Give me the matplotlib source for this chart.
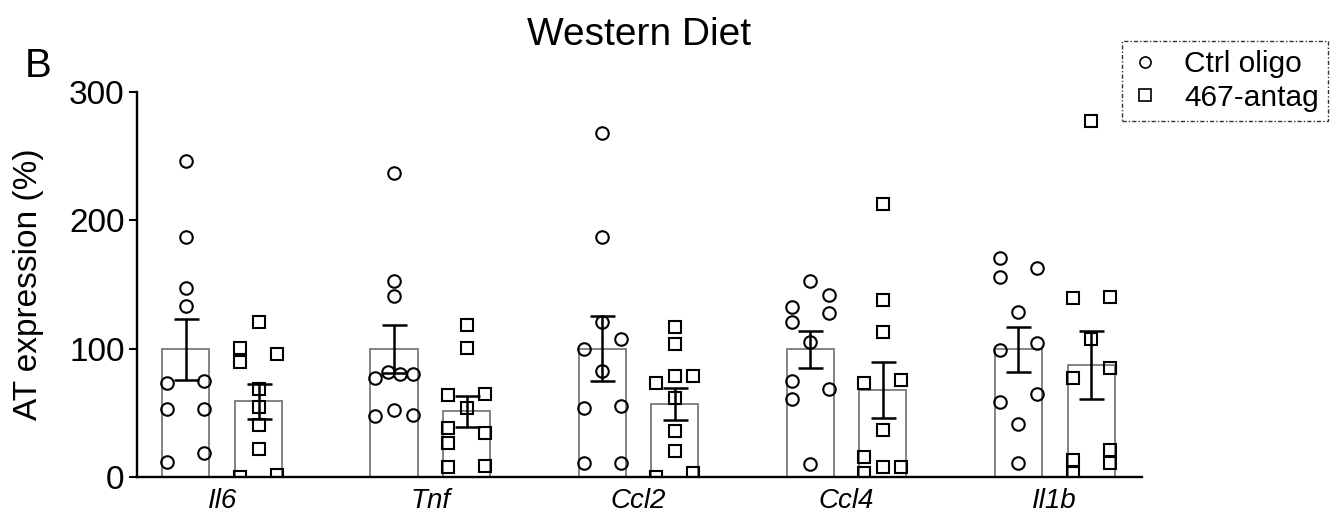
import numpy as np
import matplotlib
matplotlib.use('Agg')
import matplotlib.pyplot as plt
from matplotlib.lines import Line2D

plt.rcParams['font.family'] = ['Liberation Sans', 'DejaVu Sans']

genes = ['Il6', 'Tnf', 'Ccl2', 'Ccl4', 'Il1b']

# individual values (% of control)
ctrl_vals = [
    [246, 187, 147, 133, 73, 75, 53, 53, 12, 19],
    [236.7, 153, 140.8, 77.5, 81.7, 80, 80, 47.7, 52.6, 48.7],
    [268, 186.7, 120.8, 107.9, 99.6, 82.7, 53.7, 55.5, 11.4, 11.4],
    [152.7, 141.6, 132.5, 127.8, 120.8, 105.5, 74.7, 68.4, 60.7, 10.6],
    [170.9, 156, 163, 128.9, 104.2, 99, 64.6, 58.9, 41.5, 10.9],
]
antag_vals = [
    [121, 100.6, 90, 95.7, 68.4, 55, 41, 21.8, 0.5, 1.8],
    [118.5, 100.9, 63.8, 64.6, 53.7, 38.6, 34.7, 27, 7.8, 8.6],
    [117, 103.7, 79, 79, 73, 62, 36, 20.7, 0.5, 3],
    [212.6, 137.9, 112.8, 75.7, 73.6, 36.8, 16, 7.8, 7.8, 3],
    [276.9, 139.7, 140.5, 107.6, 84.8, 77, 21.3, 13.5, 11.4, 3.6],
]
# scatter column of each point (-1 left, 0 middle, 1 right)
ctrl_cols = [
    [0, 0, 0, 0, -1, 1, -1, 1, -1, 1],
    [0, 0, 0, -1, -0.33, 0.33, 1, -1, 0, 1],
    [0, 0, 0, 1, -1, 0, -1, 1, -1, 1],
    [0, 1, -1, 1, -1, 0, -1, 1, -1, 0],
    [-1, -1, 1, 0, 1, -1, 1, -1, 0, 0],
]
antag_cols = [
    [0, -1, -1, 1, 0, 0, 0, 0, -1, 1],
    [0, 0, -1, 1, 0, -1, 1, -1, -1, 1],
    [0, 0, 0, 1, -1, 0, 0, 0, -1, 1],
    [0, 0, 0, 1, -1, 0, -1, 0, 1, -1],
    [0, -1, 1, 0, 1, -1, 1, -1, 1, -1],
]
ctrl_mean = [99.5, 100, 100, 99.5, 99.5]
ctrl_sem = [24, 18.7, 25.3, 14.5, 17.5]
antag_mean = [59, 51.5, 57, 68, 87.3]
antag_sem = [13.6, 12, 12.7, 21.8, 26.5]

fig = plt.figure(figsize=(13.41, 5.19), dpi=100)
ax = fig.add_axes([0.1022, 0.0803, 0.7494, 0.7430])

x = np.arange(len(genes))
off = 0.175
bw = 0.226
jit = 0.089

groups = [(x - off, ctrl_vals, ctrl_cols, ctrl_mean, ctrl_sem, 'o'),
          (x + off, antag_vals, antag_cols, antag_mean, antag_sem, 's')]
for xs, vals, cols, mean, sem, mk in groups:
    ax.bar(xs, mean, width=bw, facecolor='white', edgecolor='#7a7a7a',
           linewidth=1.3, zorder=1)
    for i in range(len(genes)):
        px = xs[i] + jit * np.array(cols[i])
        ax.plot(px, vals[i], linestyle='none', marker=mk, ms=9,
                mfc='none', mec='black', mew=1.5, zorder=3)
    ax.errorbar(xs, mean, yerr=sem, fmt='none', ecolor='black',
                elinewidth=1.8, capsize=9, capthick=1.8, zorder=4)

ax.set_xlim(-0.41, 4.42)
ax.set_ylim(0, 300)
ax.set_yticks([0, 100, 200, 300])
ax.set_xticks(x)
ax.set_xticklabels(genes, fontstyle='italic', fontsize=20)
ax.tick_params(axis='y', labelsize=24, length=6, width=1.5, pad=3)
ax.tick_params(axis='x', length=0, pad=8)
for s in ['top', 'right']:
    ax.spines[s].set_visible(False)
for s in ['left', 'bottom']:
    ax.spines[s].set_linewidth(1.7)
ax.spines['bottom'].set_zorder(5)

fig.text(0.0216, 0.452, 'AT expression (%)', rotation=90, ha='center',
         va='center', fontsize=24)
fig.text(0.4769, 0.9133, 'Western Diet', ha='center', va='baseline',
         fontsize=28)
fig.text(0.0186, 0.8516, 'B', ha='left', va='baseline', fontsize=29)

handles = [Line2D([], [], linestyle='none', marker='o', ms=8, mfc='none',
                  mec='black', mew=1.2),
           Line2D([], [], linestyle='none', marker='s', ms=8, mfc='none',
                  mec='black', mew=1.2)]
leg = fig.legend(handles, ['Ctrl oligo', '467-antag'], loc='upper right',
                 bbox_to_anchor=(0.9903, 0.921), borderaxespad=0,
                 fontsize=21.5, fancybox=False, handlelength=1.0,
                 handletextpad=0.8, labelspacing=0.2, borderpad=0.3)
fr = leg.get_frame()
fr.set_edgecolor('black')
fr.set_linewidth(1.0)
fr.set_linestyle((0, (3, 1.5, 1, 1.5)))

fig.savefig('out.png', dpi=100)
